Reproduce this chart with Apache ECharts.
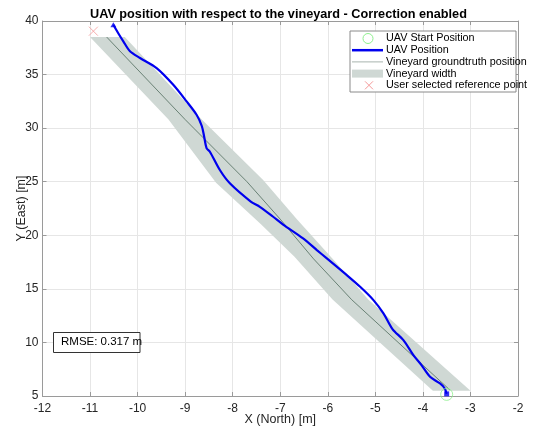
<!DOCTYPE html>
<html>
<head>
<meta charset="utf-8">
<script src="https://cdn.jsdelivr.net/npm/echarts@6/dist/echarts.min.js"></script>
<style>html,body{margin:0;padding:0;background:#fff}#c{width:535px;height:428px}</style>
</head>
<body>
<div id="c"></div>
<script>
// ---- data ----
var titleText = 'UAV position with respect to the vineyard - Correction enabled';
var xTicks = [-12, -11, -10, -9, -8, -7, -6, -5, -4, -3, -2];
var yTicks = [5, 10, 15, 20, 25, 30, 35, 40];
var uavPath = [
  [-3.50, 5.20], [-3.54, 5.70], [-3.64, 6.17], [-3.85, 6.79], [-4.03, 7.88],
  [-4.20, 8.81], [-4.41, 10.21], [-4.64, 11.25], [-4.83, 12.71], [-5.04, 13.95],
  [-5.32, 15.19], [-5.60, 16.28], [-6.02, 17.84], [-6.23, 18.62], [-6.52, 19.71],
  [-6.94, 21.00], [-7.15, 21.73], [-7.43, 22.66], [-7.62, 23.15], [-8.06, 24.85],
  [-8.27, 26.09], [-8.48, 27.80], [-8.55, 28.14], [-8.60, 29.20], [-8.65, 30.20],
  [-8.76, 31.25], [-8.97, 32.50], [-9.25, 34.05], [-9.60, 35.61], [-9.95, 36.55],
  [-10.16, 37.17], [-10.30, 38.10], [-10.41, 38.88], [-10.51, 39.65]
];
var groundtruth = [
  [-10.65, 38.5], [-9.0, 30.8], [-7.7, 25.0], [-7.0, 21.5], [-6.3, 17.8],
  [-5.5, 14.0], [-3.43, 5.55]
];
var bandLeft = [
  [-11.0, 38.5], [-9.35, 30.8], [-8.35, 24.9], [-7.4, 21.0], [-6.7, 18.0],
  [-5.9, 14.0], [-3.79, 5.5]
];
var bandRight = [
  [-10.27, 38.5], [-8.65, 30.8], [-7.36, 25.15], [-6.65, 21.5], [-5.9, 17.8],
  [-5.15, 14.0], [-3.0, 5.5]
];
var startPoint = [[-3.50, 5.15]];
var refPoint = [[-10.93, 39.05]];
var rmseText = 'RMSE: 0.317 m';
var legendNames = ['UAV Start Position', 'UAV Position', 'Vineyard groundtruth position', 'Vineyard width', 'User selected reference point'];

// ---- chart ----
var bandPolygon = bandLeft.concat(bandRight.slice().reverse());
var chart = echarts.init(document.getElementById('c'), null, {renderer: 'canvas'});
var FONT = 'Liberation Sans, Arial, sans-serif';
var axisColor = '#9a9a9a';
var gridColor = '#e6e6e6';

var legendX = 350, legendY = 31, rowH = 11.7;
var legendGraphics = [
  {type: 'rect', shape: {x: legendX, y: legendY, width: 166, height: 61}, style: {fill: '#fff', stroke: '#8a8a8a', lineWidth: 1}, z: 100},
  {type: 'circle', shape: {cx: 368, cy: legendY + 7.5, r: 5}, style: {fill: 'none', stroke: '#8ef08e', lineWidth: 1}, z: 101},
  {type: 'line', shape: {x1: 352, y1: legendY + 7.5 + rowH, x2: 383, y2: legendY + 7.5 + rowH}, style: {stroke: '#0000ee', lineWidth: 2.5}, z: 101},
  {type: 'line', shape: {x1: 352, y1: legendY + 7.5 + 2 * rowH, x2: 383, y2: legendY + 7.5 + 2 * rowH}, style: {stroke: '#a8b4ae', lineWidth: 1}, z: 101},
  {type: 'rect', shape: {x: 352, y: legendY + 7.5 + 3 * rowH - 4, width: 31, height: 8}, style: {fill: '#cfd8d4'}, z: 101},
  {type: 'polyline', shape: {points: [[365, legendY + 7.5 + 4 * rowH - 4], [373, legendY + 7.5 + 4 * rowH + 4]]}, style: {stroke: '#f59a9a', lineWidth: 1}, z: 101},
  {type: 'polyline', shape: {points: [[373, legendY + 7.5 + 4 * rowH - 4], [365, legendY + 7.5 + 4 * rowH + 4]]}, style: {stroke: '#f59a9a', lineWidth: 1}, z: 101}
];
legendNames.forEach(function (n, i) {
  legendGraphics.push({type: 'text', left: 386, top: legendY + 2 + i * rowH, z: 102,
    style: {text: n, font: '10.8px ' + FONT, fill: '#000'}});
});
legendGraphics.push({type: 'rect', shape: {x: 53.5, y: 332.5, width: 86.5, height: 20}, style: {fill: '#fff', stroke: '#333', lineWidth: 1}, z: 100});
legendGraphics.push({type: 'text', left: 61, top: 336, z: 101, style: {text: rmseText, font: '11.5px ' + FONT, fill: '#000'}});

var baseAxis = {
  type: 'value',
  axisLine: {show: true, onZero: false, lineStyle: {color: axisColor, width: 1}},
  axisTick: {show: true, inside: true, length: 4, lineStyle: {color: axisColor}},
  splitLine: {show: false}
};

chart.setOption({
  animation: false,
  backgroundColor: '#fff',
  title: {text: titleText, left: 85, top: 3,
    textStyle: {fontFamily: FONT, fontSize: 12.7, fontWeight: 'bold', color: '#000'}},
  grid: {left: 42.5, right: 17, top: 21, bottom: 32, containLabel: false, outerBoundsMode: 'none'},
  xAxis: [
    Object.assign({}, baseAxis, {position: 'bottom', min: xTicks[0], max: xTicks[xTicks.length - 1], interval: 1,
      splitLine: {show: true, lineStyle: {color: gridColor, width: 1}},
      axisLabel: {fontFamily: FONT, fontSize: 12, color: '#262626', margin: 7},
      name: 'X (North) [m]', nameLocation: 'middle', nameGap: 17, nameMoveOverlap: false,
      nameTextStyle: {fontFamily: FONT, fontSize: 12.5, color: '#262626'}}),
    Object.assign({}, baseAxis, {position: 'top', min: xTicks[0], max: xTicks[xTicks.length - 1], interval: 1, axisLabel: {show: false}})
  ],
  yAxis: [
    Object.assign({}, baseAxis, {position: 'left', min: yTicks[0], max: yTicks[yTicks.length - 1], interval: 5,
      splitLine: {show: true, lineStyle: {color: gridColor, width: 1}},
      axisLabel: {fontFamily: FONT, fontSize: 12, color: '#262626', margin: 4},
      name: 'Y (East) [m]', nameLocation: 'middle', nameGap: 14, nameRotate: 90, nameMoveOverlap: false,
      nameTextStyle: {fontFamily: FONT, fontSize: 12.5, color: '#262626'}}),
    Object.assign({}, baseAxis, {position: 'right', min: yTicks[0], max: yTicks[yTicks.length - 1], interval: 5, axisLabel: {show: false}})
  ],
  series: [
    {
      name: 'Vineyard width', type: 'custom', data: [0], z: 2, silent: true,
      renderItem: function (params, api) {
        var pts = bandPolygon.map(function (p) { return api.coord(p); });
        return {type: 'polygon', shape: {points: pts}, style: {fill: '#cfd8d4', stroke: 'none'}};
      }
    },
    {name: 'Vineyard groundtruth position', type: 'line', data: groundtruth, showSymbol: false, z: 3,
      lineStyle: {color: '#3e5c4c', width: 0.7}},
    {name: 'UAV Position', type: 'line', data: uavPath, showSymbol: false, smooth: 0.3, z: 4,
      lineStyle: {color: '#0000ee', width: 2.2}},
    {name: 'UAV end', type: 'scatter', data: [uavPath[uavPath.length - 1]], symbol: 'triangle', symbolSize: [6, 5], z: 5,
      itemStyle: {color: '#0000ee'}},
    {name: 'UAV start dot', type: 'scatter', data: [uavPath[0]], symbol: 'rect', symbolSize: 5, z: 5, itemStyle: {color: '#0000ee'}},
    {name: 'UAV Start Position', type: 'scatter', data: startPoint, symbol: 'circle', symbolSize: 12, z: 6,
      itemStyle: {color: 'rgba(0,0,0,0)', borderColor: '#8ef08e', borderWidth: 1}},
    {name: 'User selected reference point', type: 'scatter', data: refPoint, symbol: 'path://M0,0L10,10M10,0L0,10', symbolSize: 9, z: 6,
      itemStyle: {color: 'rgba(0,0,0,0)', borderColor: '#f59a9a', borderWidth: 1}}
  ],
  graphic: legendGraphics
});
</script>
</body>
</html>
